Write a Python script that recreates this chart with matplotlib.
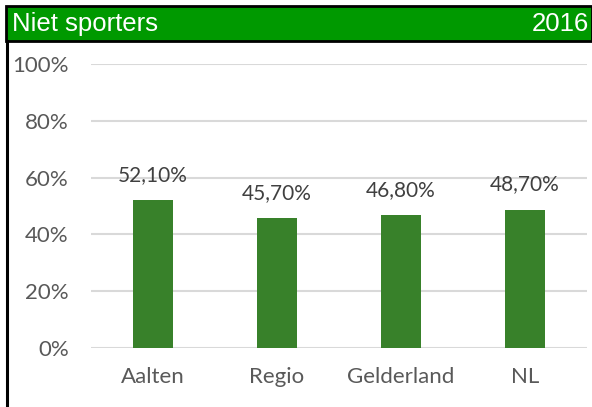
import matplotlib
matplotlib.use("Agg")
import matplotlib.pyplot as plt
from matplotlib.patches import Rectangle
from matplotlib.lines import Line2D
from matplotlib.ticker import FuncFormatter

categories = ["Aalten", "Regio", "Gelderland", "NL"]
values = [52.1, 45.7, 46.8, 48.7]
value_labels = ["52,10%", "45,70%", "46,80%", "48,70%"]
yticks = [0, 20, 40, 60, 80, 100]
header_left = "Niet sporters"
header_right = "2016"

W, H = 592, 407
fig = plt.figure(figsize=(W / 100, H / 100), dpi=100)
fig.patch.set_facecolor("white")

font = "Lato"
tick_color = "#595959"

# header bar
fig.patches.append(Rectangle((6 / W, 1 - 41 / H), (W - 6) / W, 35 / H,
                             transform=fig.transFigure, facecolor="#009900",
                             edgecolor="black", linewidth=2, zorder=1))
fig.lines.append(Line2D([6.5 / W, 6.5 / W], [0, 1 - 41 / H], transform=fig.transFigure,
                        color="black", linewidth=2.2))
fig.text(12 / W, 1 - 24 / H, header_left, color="white", fontsize=18.5,
         family="Liberation Sans", va="center", ha="left")
fig.text(589 / W, 1 - 24 / H, header_right, color="white", fontsize=18.5,
         family="Liberation Sans", va="center", ha="right")

ax = fig.add_axes([91 / W, 1 - 348 / H, (587 - 91) / W, (348 - 64) / H])
x = list(range(len(categories)))
ax.bar(x, values, width=0.32, color="#38812A", zorder=3)
ax.set_xlim(-0.5, len(categories) - 0.5)
ax.set_ylim(0, 100)
ax.set_yticks(yticks)
ax.yaxis.set_major_formatter(FuncFormatter(lambda v, p: f"{int(v)}%"))
ax.set_xticks(x)
ax.set_xticklabels(categories)
ax.grid(axis="y", color="#d9d9d9", linewidth=1.5, zorder=0)
for s in ax.spines.values():
    s.set_visible(False)
ax.tick_params(axis="both", length=0, labelsize=16, colors=tick_color)
ax.tick_params(axis="y", pad=16)
ax.tick_params(axis="x", pad=14)
for lab in ax.get_xticklabels() + ax.get_yticklabels():
    lab.set_family(font)
for xi, v, t in zip(x, values, value_labels):
    ax.annotate(t, (xi, v), xytext=(0, 11), textcoords="offset points",
                ha="center", va="bottom", fontsize=15, color="#404040", family=font)

fig.savefig("out.png", dpi=100)
